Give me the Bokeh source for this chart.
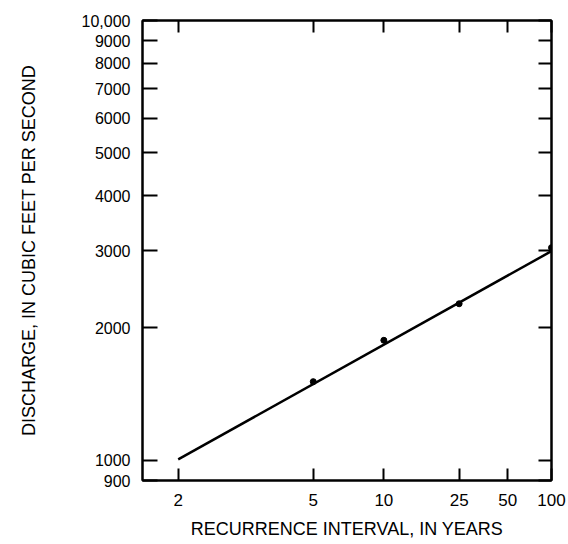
from statistics import NormalDist
from bokeh.plotting import figure
from bokeh.models import LinearAxis, LogAxis, FixedTicker, Range1d
from bokeh.embed import file_html
from bokeh.resources import INLINE

# ---- data ----
recurrence_ticks = [2, 5, 10, 25, 50, 100]
recurrence_labels = ["2", "5", "10", "25", "50", "100"]
discharge_ticks = [900, 1000, 2000, 3000, 4000, 5000, 6000, 7000, 8000, 9000, 10000]
discharge_labels = ["900", "1000", "2000", "3000", "4000", "5000", "6000", "7000",
                    "8000", "9000", "10,000"]
point_T = [5, 10, 25, 100]
point_Q = [1510, 1875, 2270, 3045]
line_T = [2, 100]
line_Q = [1005, 2990]

FONT = "Liberation Sans"
nd = NormalDist()


def zscale(T):
    """Probability-paper position of a recurrence interval (normal quantile of 1-1/T)."""
    return nd.inv_cdf(1.0 - 1.0 / T)


xt = [zscale(t) for t in recurrence_ticks]

p = figure(width=568, height=544, y_axis_type="log",
           x_range=Range1d(-0.2225, zscale(100)), y_range=Range1d(900, 10000),
           output_backend="svg", toolbar_location=None,
           min_border_left=142, min_border_right=17, min_border_top=20, min_border_bottom=64)
p.background_fill_color = "white"
p.border_fill_color = "white"
p.outline_line_color = "black"
p.outline_line_width = 2
p.xgrid.visible = False
p.ygrid.visible = False


def style_axis(ax, tick_len):
    ax.major_tick_in = tick_len
    ax.major_tick_out = 0
    ax.minor_tick_line_color = None
    ax.axis_line_width = 2
    ax.axis_line_color = "black"
    ax.major_tick_line_width = 2
    ax.major_tick_line_color = "black"
    ax.major_label_text_font = FONT
    ax.major_label_text_color = "black"


# bottom axis
bx = p.xaxis[0]
bx.ticker = FixedTicker(ticks=xt)
bx.major_label_overrides = {z: lab for z, lab in zip(xt, recurrence_labels)}
style_axis(bx, 12)
bx.major_label_text_font_size = "17px"
bx.major_label_standoff = 13
bx.axis_label = "RECURRENCE INTERVAL, IN YEARS"
bx.axis_label_text_font = FONT
bx.axis_label_text_font_size = "18px"
bx.axis_label_text_font_style = "normal"
bx.axis_label_text_color = "black"
bx.axis_label_standoff = 10

# left axis
ly = p.yaxis[0]
ly.ticker = FixedTicker(ticks=discharge_ticks)
ly.major_label_overrides = {v: lab for v, lab in zip(discharge_ticks, discharge_labels)}
style_axis(ly, 15)
ly.major_label_text_font_size = "16px"
ly.major_label_standoff = 12
ly.axis_label = "DISCHARGE, IN CUBIC FEET PER SECOND"
ly.axis_label_text_font = FONT
ly.axis_label_text_font_size = "18px"
ly.axis_label_text_font_style = "normal"
ly.axis_label_text_color = "black"
ly.axis_label_standoff = 40

# top axis (ticks only)
tx = LinearAxis(ticker=FixedTicker(ticks=xt))
style_axis(tx, 12)
tx.major_label_overrides = {z: "" for z in xt}
tx.major_label_text_font_size = "0px"
tx.major_label_standoff = 0
p.add_layout(tx, "above")

# right axis (ticks only)
ry = LogAxis(ticker=FixedTicker(ticks=discharge_ticks))
style_axis(ry, 13)
ry.major_label_overrides = {v: "" for v in discharge_ticks}
ry.major_label_text_font_size = "0px"
ry.major_label_standoff = 0
p.add_layout(ry, "right")

# data
p.line([zscale(t) for t in line_T], line_Q, line_color="black", line_width=2.5)
p.scatter([zscale(t) for t in point_T], point_Q, size=6, color="black")

open("out.html", "w").write(file_html(p, INLINE))
